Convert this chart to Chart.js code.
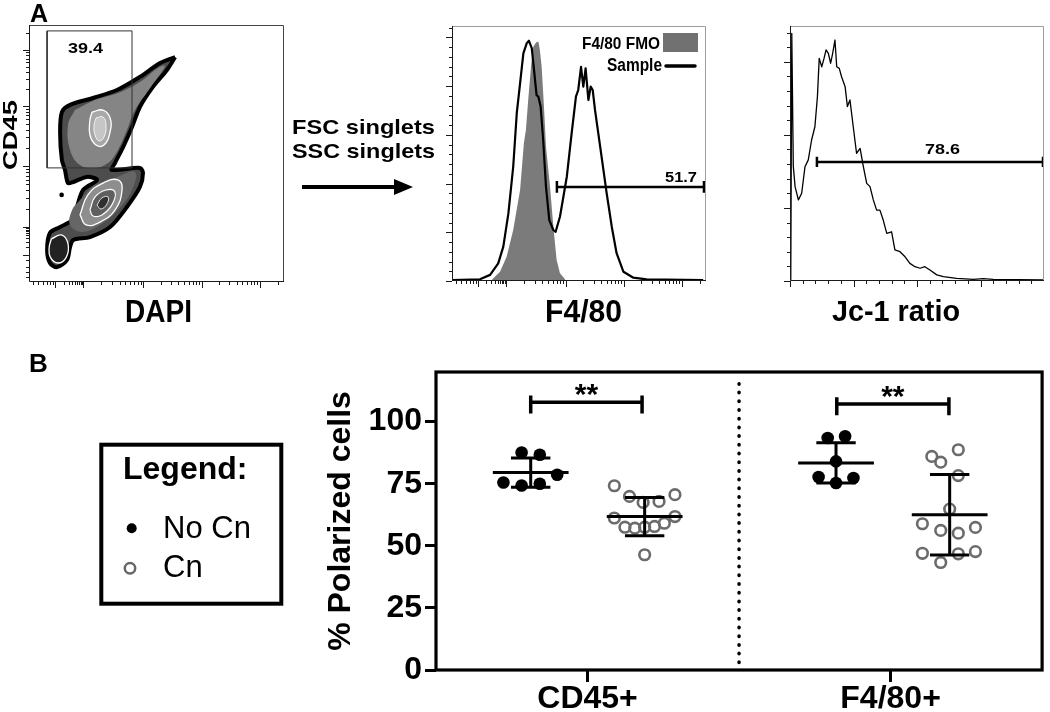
<!DOCTYPE html>
<html lang="en">
<head>
<meta charset="utf-8">
<title>Polarized cells – CD45+ and F4/80+</title>
<script src="https://cdn.jsdelivr.net/npm/chart.js@4.4.1/dist/chart.umd.min.js"></script>
<style>
  html, body { margin: 0; padding: 0; background: #fff; }
  #figure { position: relative; width: 1050px; height: 712px; overflow: hidden; background: #fff; }
  #figure canvas { position: absolute; }
  #overlay { position: absolute; left: 0; top: 0; pointer-events: none; }
  #overlay text { font-family: 'Liberation Sans', Arial, Helvetica, sans-serif; fill: #000; }
  #overlay .b { font-weight: bold; }
</style>
</head>
<body>
<div id="figure">
  <canvas id="densityChart" width="300" height="300" style="left:0;top:0"></canvas>
  <canvas id="f480Chart" width="300" height="300" style="left:420px;top:0"></canvas>
  <canvas id="jc1Chart" width="290" height="300" style="left:760px;top:0"></canvas>
  <canvas id="polarChart" width="730" height="352" style="left:320px;top:360px"></canvas>
  <svg id="overlay" width="1050" height="712" xmlns="http://www.w3.org/2000/svg">
    <text class="b" x="30" y="22" font-size="25">A</text>
    <text class="b" x="29" y="372" font-size="26">B</text>
    <text class="b" transform="translate(17,135) rotate(-90)" text-anchor="middle" font-size="21" textLength="70" lengthAdjust="spacingAndGlyphs">CD45</text>
    <text class="b" x="125" y="322" font-size="32" textLength="67" lengthAdjust="spacingAndGlyphs">DAPI</text>
    <text class="b" x="545" y="322" font-size="31" textLength="77" lengthAdjust="spacingAndGlyphs">F4/80</text>
    <text class="b" x="832" y="321" font-size="30" textLength="128" lengthAdjust="spacingAndGlyphs">Jc-1 ratio</text>
    <text class="b" x="292" y="134" font-size="20.5" textLength="143" lengthAdjust="spacingAndGlyphs">FSC singlets</text>
    <text class="b" x="292" y="158" font-size="20.5" textLength="143" lengthAdjust="spacingAndGlyphs">SSC singlets</text>
    <line x1="302" y1="187" x2="397" y2="187" stroke="#000" stroke-width="4"/>
    <polygon points="394,179 413,187 394,195" fill="#000"/>
    <text class="b" x="68" y="53" font-size="14" textLength="35" lengthAdjust="spacingAndGlyphs">39.4</text>
    <text class="b" x="665" y="182" font-size="14" textLength="32" lengthAdjust="spacingAndGlyphs">51.7</text>
    <text class="b" x="925" y="154" font-size="15" textLength="35" lengthAdjust="spacingAndGlyphs">78.6</text>
    <text class="b" x="582" y="49" font-size="17" textLength="78" lengthAdjust="spacingAndGlyphs">F4/80 FMO</text>
    <rect x="663" y="33" width="35" height="19" fill="#717171"/>
    <text class="b" x="607" y="71" font-size="18" textLength="55" lengthAdjust="spacingAndGlyphs">Sample</text>
    <line x1="666" y1="66" x2="695" y2="66" stroke="#000" stroke-width="3.5" stroke-linecap="round"/>
    <rect x="101.3" y="444.7" width="180" height="159" fill="none" stroke="#000" stroke-width="4"/>
    <text class="b" x="123" y="479" font-size="32">Legend:</text>
    <circle cx="131.7" cy="528.3" r="5" fill="#000"/>
    <text x="163" y="538" font-size="31">No Cn</text>
    <circle cx="130" cy="568.3" r="5.2" fill="none" stroke="#666" stroke-width="2.5"/>
    <text x="163" y="577" font-size="31">Cn</text>
    <g id="sigText"></g>
  </svg>
</div>
<script>
/**
 * Figure: gating (A) and % polarized cells by JC-1 (B)
 */

const FONT = '"Liberation Sans", Arial, Helvetica, sans-serif';

// ---- Panel B values ----
const categories = ['CD45+', 'F4/80+'];
const categoryX = [1, 3];
const seriesNames = ['No Cn', 'Cn'];
const noCnX = [0.625, 2.64];
const cnX = [1.377, 3.39];
const noCnValues = [
    [87.6, 86.7, 78.6, 75.5, 74.3, 75.0],
    [93.4, 94.1, 84.0, 77.7, 77.3, 75.3]
];
const noCnJitter = [
    [-0.06, 0.06, 0.175, -0.18, -0.06, 0.06],
    [-0.055, 0.06, 0, -0.115, 0.115, 0]
];
const cnValues = [
    [74.2, 69.9, 67.5, 67.9, 70.6, 61.2, 57.5, 57.1, 57.5, 57.8, 59.1, 61.8, 46.4],
    [88.7, 86.0, 83.7, 78.3, 64.8, 58.9, 56.2, 55.1, 57.4, 47.0, 46.8, 47.7, 43.3]
];
const cnJitter = [
    [-0.2, -0.1, -0.01, 0.095, 0.2, -0.2, -0.13, -0.065, 0, 0.065, 0.13, 0.2, 0],
    [0.057, -0.118, -0.059, 0.057, 0, -0.18, -0.059, 0.057, 0.17, -0.18, 0.057, 0.17, -0.059]
];
const noCnMean = [79.5, 83.4];
const noCnSD = [5.9, 8.1];
const cnMean = [61.8, 62.5];
const cnSD = [7.7, 16.2];
const yTicks = [0, 25, 50, 75, 100];
const sigFrom = [0.625, 2.645];
const sigTo = [1.36, 3.385];
const sigY = [107.8, 107.1];
const sigLabels = ['**', '**'];
const dividerSpan = [3, 118.5];

// ---- Panel A: CD45 vs DAPI density contours (x, y on a 0-100 display scale) ----
const densityOutline = [
    [57.3, 87.5], [54.1, 82.5], [48.6, 75.9], [43.5, 68.1], [40.4, 60.3], [36.9, 52.5], [33.7, 46.3], [32.5, 43.6],
    [43.5, 44.4], [44.7, 42.4], [43.5, 37.0], [38.4, 29.2], [31.8, 21.4], [23.9, 17.5], [17.3, 16.3], [16.1, 13.6],
    [14.9, 8.6], [11.0, 5.8], [8.2, 7.4], [7.1, 12.5], [8.2, 19.1], [12.2, 21.4], [16.9, 24.1], [18.8, 29.2],
    [21.2, 35.8], [26.7, 39.7], [22.7, 40.9], [17.3, 38.9], [15.3, 38.5], [14.1, 43.6], [12.9, 47.5], [12.2, 58.0],
    [12.9, 66.1], [16.1, 68.9], [25.1, 71.6], [34.5, 74.7], [43.5, 79.8], [51.4, 85.2]
];
const upperBody = [
    [18.0, 66.9], [25.9, 70.8], [34.9, 73.5], [43.5, 77.8], [50.6, 83.3], [53.3, 84.0], [47.5, 75.5], [41.6, 66.9],
    [38.4, 59.1], [34.9, 51.4], [31.0, 46.3], [25.9, 44.4], [20.0, 45.5], [16.1, 51.4], [15.3, 61.1]
];
const lowerBody = [
    [20.0, 31.9], [25.9, 37.7], [33.7, 40.5], [41.6, 42.8], [40.4, 35.8], [34.9, 28.0], [27.8, 22.2], [20.8, 19.5],
    [16.1, 22.2], [16.9, 28.0]
];
const upperRing = [[24.7, 66.1], [29.0, 66.9], [31.8, 63.8], [31.8, 58.4], [29.4, 53.3], [26.3, 53.3], [23.9, 57.2], [23.9, 63.0]];
const upperCore = [[26.3, 63.8], [29.0, 64.2], [30.2, 61.1], [29.4, 56.4], [27.5, 54.9], [25.9, 57.2], [25.5, 61.1]];
const lowerRing1 = [[20.0, 26.1], [23.1, 33.9], [29.0, 38.5], [34.9, 39.7], [36.5, 35.8], [33.7, 28.0], [27.8, 23.3], [22.4, 22.2]];
const lowerRing2 = [[23.9, 28.0], [25.9, 33.1], [30.2, 35.8], [33.7, 35.0], [32.5, 30.0], [28.6, 26.1], [25.1, 25.7]];
const lowerRing3 = [[26.7, 30.0], [28.6, 32.7], [31.0, 33.1], [30.6, 30.4], [28.2, 28.4]];
const blobRing = [[8.8, 16.8], [12.7, 18.3], [15.3, 14.8], [14.6, 9.6], [11.4, 7.4], [8.4, 9.6], [7.9, 13.4]];
const strayEvent = [[12.8, 33.9]];
const gateRect = [[7.1, 44.4], [40.4, 44.4], [40.4, 97.7], [7.1, 97.7], [7.1, 44.4]];

// ---- Panel A: F4/80 histogram ----
const sampleX = [0, 11.0, 15.0, 18.2, 20.2, 22.2, 24.1, 25.5, 26.8, 28.1, 29.4, 30.3, 31.4, 32.3, 33.3, 34.0, 34.9, 35.9,
    37.0, 38.3, 39.9, 40.8, 42.5, 45.2, 47.1, 48.8, 49.7, 50.8, 51.7, 52.6, 53.7, 54.6, 55.4, 56.3, 57.6, 58.9, 60.9,
    62.9, 64.8, 67.5, 71.4, 76.6, 98.9];
const sampleY = [0.4, 0.65, 2.4, 6.9, 13.5, 26.5, 44.8, 65.8, 77.5, 89.3, 93.2, 94.2, 91.3, 82.7, 72.9, 72.3, 68.4, 55.3,
    37.0, 23.9, 20.0, 19.3, 25.2, 40.9, 57.9, 72.3, 74.9, 84.0, 76.2, 83.4, 71.0, 76.2, 74.9, 67.1, 57.9, 48.7, 34.4,
    21.3, 10.9, 3.6, 1.3, 0.65, 0.4];
const fmoX = [15.6, 18.9, 21.5, 24.1, 26.8, 28.3, 29.1, 30.0, 31.1, 32.0, 33.1, 34.0, 34.6, 35.3, 36.2, 37.0, 38.6, 39.9, 41.2, 42.5, 44.5];
const fmoY = [0.4, 3.6, 9.5, 20.0, 35.7, 54.0, 59.2, 71.0, 84.0, 91.9, 93.5, 93.9, 90.6, 84.0, 68.4, 52.7, 37.0, 21.3, 8.2, 3.0, 0.65];
const f480GateRange = [41.3, 99.2];
const f480GateLevel = 36.9;

// ---- Panel A: JC-1 ratio histogram ----
const jc1X = [0.3, 0.7, 1.3, 2.0, 3.3, 4.6, 5.9, 7.2, 8.5, 9.8, 10.8, 11.5, 12.5, 13.4, 14.2, 15.1, 16.0, 16.8, 17.7, 18.4,
    19.4, 20.3, 21.7, 22.6, 23.6, 24.9, 26.2, 27.6, 28.9, 30.2, 31.5, 32.8, 34.1, 35.4, 36.7, 38.1, 40.0, 41.3, 43.3, 45.3,
    47.2, 49.2, 51.2, 53.1, 55.1, 57.8, 60.4, 65.6, 72.2, 76.1, 80.0, 99.7];
const jc1Y = [0.4, 97.1, 45, 37.0, 31.8, 34.4, 44.8, 47.5, 55.3, 60.5, 72.3, 87.3, 84.0, 87.3, 90.6, 89.3, 85.4, 89.3, 94.5, 84.0,
    83.4, 80.1, 76.2, 68.4, 71.0, 60.5, 50.1, 52.0, 44.8, 38.3, 37.0, 31.8, 27.8, 27.8, 23.9, 18.7, 19.3, 12.2, 11.5, 9.5,
    6.9, 5.6, 5.0, 5.6, 4.3, 2.4, 1.7, 1.0, 0.65, 0.9, 0.65, 0.4];
const jc1GateRange = [10.6, 99.6];
const jc1GateLevel = 46.7;

// axis tick positions of the cytometry plots
const biexMajors = [10.2, 21.3, 44.9, 67.7, 90.6];
const biexLinearMinors = [1.5, 3.5, 5.5, 7.0, 8.3, 9.3];
const densityYMajors = [10.5, 21.4, 45.1, 68.5, 90.3];
const densityYMinors = [2, 4, 6, 8.6];
const f480YMajors = [0, 19.1, 38.2, 57.3, 76.4, 95.5];
const jc1XMajors = [0, 25, 50, 75];
const jc1YMajors = [0, 28.6, 57.3, 85.9];

function xy(pairs) {
    return pairs.map(([x, y]) => ({ x, y }));
}

function closed(pairs) {
    return xy(pairs.concat([pairs[0]]));
}

function curve(xs, ys) {
    return xs.map((x, i) => ({ x, y: ys[i] }));
}

function gateBar(range, y, cap) {
    const [x1, x2] = range;
    return [
        { x: x1, y: y - cap }, { x: x1, y: y + cap }, { x: x1, y: null },
        { x: x1, y }, { x: x2, y }, { x: x2, y: null },
        { x: x2, y: y - cap }, { x: x2, y: y + cap }
    ];
}

function tickList(t) {
    const out = t.major.map(v => [v, 6]);
    (t.minor || []).forEach(v => out.push([v, 3]));
    if (t.logSpan) {
        t.major.forEach((d, i) => {
            const next = i + 1 < t.major.length ? t.major[i + 1] : d + t.logSpan;
            for (let k = 2; k < 10; k++) {
                const v = d + (next - d) * Math.log10(k);
                if (v < 100) out.push([v, 3]);
            }
        });
    }
    if (t.step) {
        for (let v = t.step; v < 100; v += t.step) out.push([v, 3]);
    }
    return out;
}

// frame + outside tick marks for the cytometry plots
function facsAxes(spec) {
    return {
        id: 'facsAxes',
        afterDraw(chart) {
            const { ctx, chartArea: a, scales } = chart;
            ctx.save();
            ctx.lineWidth = 1;
            ctx.strokeStyle = spec.box;
            ctx.beginPath();
            ctx.moveTo(a.left, a.top + 0.5);
            ctx.lineTo(a.right - 0.5, a.top + 0.5);
            ctx.lineTo(a.right - 0.5, a.bottom);
            ctx.stroke();
            ctx.strokeStyle = '#1a1a1a';
            ctx.beginPath();
            ctx.moveTo(a.left + 0.5, a.top);
            ctx.lineTo(a.left + 0.5, a.bottom - 0.5);
            ctx.lineTo(a.right, a.bottom - 0.5);
            tickList(spec.x).forEach(([v, len]) => {
                const p = Math.round(scales.x.getPixelForValue(v)) + 0.5;
                ctx.moveTo(p, a.bottom);
                ctx.lineTo(p, a.bottom + len);
            });
            tickList(spec.y).forEach(([v, len]) => {
                const p = Math.round(scales.y.getPixelForValue(v)) + 0.5;
                ctx.moveTo(a.left, p);
                ctx.lineTo(a.left - len, p);
            });
            ctx.stroke();
            ctx.restore();
        }
    };
}

function facsChart(id, padding, axes, datasets) {
    const none = 'rgba(0,0,0,0)';
    return new Chart(document.getElementById(id), {
        type: 'scatter',
        data: {
            datasets: datasets.map((d, i, all) => Object.assign({
                showLine: true, pointRadius: 0, pointHitRadius: 0, borderColor: none,
                borderJoinStyle: 'round', tension: 0, order: all.length - i
            }, d))
        },
        options: {
            responsive: false,
            animation: false,
            events: [],
            layout: { padding },
            plugins: { legend: { display: false }, tooltip: { enabled: false } },
            scales: {
                x: { type: 'linear', min: 0, max: 100, display: false },
                y: { type: 'linear', min: 0, max: 100, display: false }
            }
        },
        plugins: [facsAxes(axes)]
    });
}

function shape(pairs, fill, line, width, tension) {
    return { data: closed(pairs), fill: 'shape', backgroundColor: fill, borderColor: line, borderWidth: width, tension };
}

function drawPanelA() {
    const none = 'rgba(0,0,0,0)';
    facsChart('densityChart', { left: 29, top: 25, right: 16, bottom: 18 }, {
        x: { major: biexMajors, minor: biexLinearMinors, logSpan: 23 },
        y: { major: densityYMajors, minor: densityYMinors, logSpan: 22 },
        box: '#444'
    }, [
        shape(densityOutline, '#4d4d4d', '#000', 4, 0.3),
        shape(upperBody, '#858585', none, 1, 0.4),
        shape(lowerBody, '#666666', none, 1, 0.4),
        shape(upperRing, '#a8a8a8', '#fff', 1.3, 0.45),
        shape(upperCore, '#c6c6c6', '#f2f2f2', 1, 0.45),
        shape(lowerRing1, '#8e8e8e', '#fff', 1.3, 0.45),
        shape(lowerRing2, '#5f5f5f', '#fff', 1.2, 0.45),
        shape(lowerRing3, '#303030', '#e0e0e0', 1, 0.45),
        shape(blobRing, '#222222', '#fff', 1.3, 0.45),
        { data: xy(strayEvent), showLine: false, pointRadius: 2.3, pointBackgroundColor: '#000', pointBorderWidth: 0 },
        { data: xy(gateRect), borderColor: '#333', borderWidth: 1 }
    ]);

    facsChart('f480Chart', { left: 32, top: 26, right: 14, bottom: 19 }, {
        x: { major: biexMajors, minor: biexLinearMinors, logSpan: 23 },
        y: { major: f480YMajors, step: 3.82 },
        box: '#9c9c9c'
    }, [
        { data: curve(fmoX, fmoY), fill: 'origin', backgroundColor: '#7b7b7b', borderWidth: 1 },
        { data: curve(sampleX, sampleY), borderColor: '#000', borderWidth: 2.2 },
        { data: gateBar(f480GateRange, f480GateLevel, 2.3), borderColor: '#000', borderWidth: 2.5 }
    ]);

    facsChart('jc1Chart', { left: 30, top: 26, right: 6, bottom: 19 }, {
        x: { major: jc1XMajors, step: 5 },
        y: { major: jc1YMajors, step: 5.73 },
        box: '#9c9c9c'
    }, [
        { data: curve(jc1X, jc1Y), borderColor: '#000', borderWidth: 1.3 },
        { data: gateBar(jc1GateRange, jc1GateLevel, 2), borderColor: '#000', borderWidth: 2.5 }
    ]);
}

function pointsFor(centers, values, jitter) {
    const pts = [];
    values.forEach((vals, g) => vals.forEach((v, i) => pts.push({ x: centers[g] + jitter[g][i], y: v })));
    return pts;
}

// mean line, SD whisker and caps for each group, separated by gaps
function errorBars(centers, means, sds) {
    const pts = [];
    centers.forEach((cx, g) => {
        const m = means[g], lo = m - sds[g], hi = m + sds[g];
        pts.push(
            { x: cx - 0.25, y: m }, { x: cx + 0.25, y: m }, { x: cx, y: null },
            { x: cx, y: lo }, { x: cx, y: hi }, { x: cx, y: null },
            { x: cx - 0.13, y: hi }, { x: cx + 0.13, y: hi }, { x: cx, y: null },
            { x: cx - 0.13, y: lo }, { x: cx + 0.13, y: lo }, { x: cx, y: null }
        );
    });
    return pts;
}

function sigBrackets() {
    const pts = [];
    sigFrom.forEach((x1, i) => {
        const x2 = sigTo[i], y = sigY[i];
        pts.push(
            { x: x1, y: y + 2.7 }, { x: x1, y: y - 4.5 }, { x: x1, y: null },
            { x: x1, y }, { x: x2, y }, { x: x2, y: null },
            { x: x2, y: y + 2.7 }, { x: x2, y: y - 4.5 }, { x: x2, y: null }
        );
    });
    return pts;
}

const boxFrame = {
    id: 'boxFrame',
    afterDatasetsDraw(chart) {
        const { ctx, chartArea: a } = chart;
        ctx.save();
        ctx.lineWidth = 3.2;
        ctx.strokeStyle = '#000';
        ctx.strokeRect(a.left, a.top, a.width, a.height);
        ctx.restore();
    }
};

function drawPanelB() {
    const canvas = document.getElementById('polarChart');
    const boldFont = { family: FONT, size: 32, weight: 'bold', lineHeight: 1 };
    const chart = new Chart(canvas, {
        type: 'scatter',
        data: {
            datasets: [
                {
                    label: 'mean ± SD',
                    data: errorBars(noCnX, noCnMean, noCnSD).concat(errorBars(cnX, cnMean, cnSD)),
                    showLine: true, borderColor: '#000', borderWidth: 3, pointRadius: 0, order: 0
                },
                {
                    label: 'significance',
                    data: sigBrackets(),
                    showLine: true, borderColor: '#000', borderWidth: 3.5, pointRadius: 0, order: 0
                },
                {
                    label: seriesNames[0],
                    data: pointsFor(noCnX, noCnValues, noCnJitter),
                    pointRadius: 6.3, pointBackgroundColor: '#000', pointBorderWidth: 0, order: 1
                },
                {
                    label: seriesNames[1],
                    data: pointsFor(cnX, cnValues, cnJitter),
                    pointRadius: 5.3, pointBackgroundColor: 'rgba(0,0,0,0)', pointBorderColor: '#6b6b6b',
                    pointBorderWidth: 2.6, order: 1
                },
                {
                    label: 'divider',
                    data: [{ x: 2, y: dividerSpan[0] }, { x: 2, y: dividerSpan[1] }],
                    showLine: true, borderColor: '#000', borderWidth: 3.5, borderDash: [0.5, 8.2],
                    borderCapStyle: 'round', pointRadius: 0, order: 2
                }
            ]
        },
        options: {
            responsive: false,
            animation: false,
            events: [],
            layout: { padding: { top: 12, right: 5, bottom: 0, left: 0 } },
            plugins: { legend: { display: false }, tooltip: { enabled: false } },
            scales: {
                x: {
                    type: 'linear', min: 0, max: 4,
                    afterBuildTicks: s => { s.ticks = categoryX.map(v => ({ value: v })); },
                    afterFit: s => { s.height = 42; s.paddingLeft = 0; s.paddingRight = 0; },
                    border: { display: false },
                    grid: { drawOnChartArea: false, tickLength: 12, tickWidth: 3, tickColor: '#000' },
                    ticks: {
                        color: '#000', padding: 1, font: boldFont, autoSkip: false, maxRotation: 0,
                        callback: value => categories[categoryX.indexOf(value)]
                    }
                },
                y: {
                    type: 'linear', min: 0, max: 120,
                    afterBuildTicks: s => { s.ticks = yTicks.map(v => ({ value: v })); },
                    afterFit: s => { s.width = 116; s.paddingTop = 0; s.paddingBottom = 0; },
                    border: { display: false },
                    grid: { drawOnChartArea: false, tickLength: 11, tickWidth: 3, tickColor: '#000' },
                    ticks: { color: '#000', padding: 3, font: boldFont },
                    title: {
                        display: true, text: '% Polarized cells', color: '#000',
                        font: { family: FONT, size: 32, weight: 'bold', lineHeight: 1.2 },
                        padding: { top: 2, bottom: 0 }
                    }
                }
            }
        },
        plugins: [boxFrame]
    });

    // significance stars as text above each bracket
    const group = document.getElementById('sigText');
    sigLabels.forEach((label, i) => {
        const t = document.createElementNS('http://www.w3.org/2000/svg', 'text');
        t.setAttribute('x', canvas.offsetLeft + chart.scales.x.getPixelForValue((sigFrom[i] + sigTo[i]) / 2));
        t.setAttribute('y', canvas.offsetTop + chart.scales.y.getPixelForValue(sigY[i]) + 2);
        t.setAttribute('text-anchor', 'middle');
        t.setAttribute('font-size', '30');
        t.setAttribute('class', 'b');
        t.textContent = label;
        group.appendChild(t);
    });
}

document.addEventListener('DOMContentLoaded', () => {
    drawPanelA();
    drawPanelB();
});
</script>
</body>
</html>
